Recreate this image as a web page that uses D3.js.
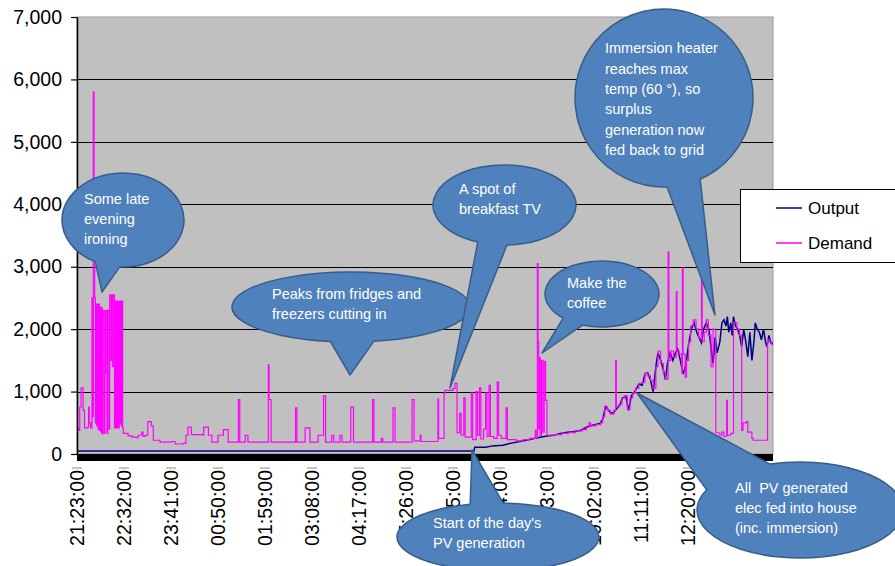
<!DOCTYPE html>
<html><head><meta charset="utf-8">
<script src="https://cdn.jsdelivr.net/npm/d3@7"></script>
<style>
body{margin:0;background:#fff}
svg{display:block}
text{font-family:"Liberation Sans",Arial,sans-serif}
</style>
</head><body>
<svg id="chart" width="895" height="566"></svg>
<script>
// ---------- DATA ----------
const timeLabels = ["21:23:00","22:32:00","23:41:00","00:50:00","01:59:00","03:08:00","04:17:00",
  "05:26:00","06:35:00","07:44:00","08:53:00","10:02:00","11:11:00","12:20:00","13:29:00"];
const labelStepMinutes = 69;          // minutes between category labels
const totalMinutes = 1022;            // minutes covered by the category axis
const yTicks = [0,1000,2000,3000,4000,5000,6000,7000];
const seriesNames = ["Output","Demand"];

// [minutes since 21:23, watts]
const outputSeries = [[0,50],[583,50],[584,110],[600,110],[610,130],[625,140],[636,170],[650,200],[668,240],
  [680,270],[690,290],[700,300],[710,330],[720,350],[730,360],[740,380],[750,440],[760,470],[768,490],[772,560],
  [776,760],[782,680],[787,650],[792,720],[797,780],[801,900],[806,920],[810,700],[814,930],[819,1000],[825,1120],
  [830,1100],[834,1280],[838,1300],[842,1190],[846,1000],[850,1400],[853,1620],[857,1500],[861,1350],[864,1190],
  [867,1450],[871,1620],[875,1500],[878,1600],[882,1680],[886,1500],[890,1280],[894,1420],[898,1750],[902,2000],
  [906,2100],[910,1950],[914,1850],[917,1780],[920,2000],[924,2100],[928,2000],[931,1700],[934,1450],[937,1870],
  [940,1620],[944,1800],[947,2100],[950,2150],[953,2050],[955,2200],[957,1950],[960,2100],[962,1900],[964,2200],
  [967,2050],[970,2000],[973,1900],[976,1720],[979,2000],[982,1800],[985,1560],[988,1950],[991,1500],[994,1800],
  [996,2100],[999,2000],[1002,1950],[1005,1830],[1008,2000],[1011,1800],[1013,1720],[1016,1900],[1019,1780],[1022,1780]];

const demandSeries = [[0,420],[2,390],[3,380],[4,750],[6,1060],[9,700],[11,420],[16,430],[17,750],[18,500],[20,420],
  [22,2500],[23,600],[24,5800],[25,3000],[26,2500],[27,500],[28,2400],[29,450],[30,2400],[31,400],[32,2400],[33,380],
  [34,2350],[35,350],[36,2350],[37,320],[38,2300],[40,330],[41,1300],[42,2300],[44,330],[45,2300],[47,400],
  [48,2550],[50,1500],[51,2550],[52,1400],[53,2550],[55,420],[56,2450],[57,420],[58,2450],[59,420],[60,2450],
  [61,420],[62,2450],[63,500],[64,2450],[65,450],[66,2450],[67,420],[68,330],[75,290],[81,270],[88,260],[90,300],
  [95,350],[97,280],[100,300],[104,520],[109,450],[112,220],[122,190],[139,200],[144,160],[156,170],[160,300],
  [163,430],[168,310],[185,300],[186,430],[193,300],[198,190],[207,300],[215,390],[222,190],[237,870],[239,190],
  [247,300],[251,190],[281,1430],[282,870],[285,190],[321,740],[323,190],[335,420],[342,190],[354,300],[362,930],
  [365,190],[374,300],[377,190],[386,300],[389,190],[402,750],[406,190],[434,870],[436,190],[447,250],[449,190],
  [464,740],[467,190],[492,870],[495,210],[504,300],[505,200],[530,880],[531,250],[539,970],[540,1020],[552,1050],
  [555,1130],[558,340],[562,650],[564,300],[568,900],[570,270],[579,980],[581,230],[586,1000],[588,300],[591,1060],
  [593,240],[597,400],[600,980],[602,280],[605,1100],[607,280],[612,250],[617,1150],[619,300],[623,250],[630,740],
  [632,230],[645,210],[655,230],[665,250],[673,380],[674,260],[676,3050],[677,1800],[678,400],[679,1550],[680,300],
  [682,1500],[684,350],[686,1480],[688,860],[690,300],[700,310],[712,330],[722,350],[728,340],[732,370],[742,390],
  [748,430],[752,500],[754,450],[762,470],[769,500],[772,600],[775,760],[779,700],[783,640],[788,700],[791,1500],
  [792,760],[796,800],[800,900],[804,930],[808,720],[812,900],[816,980],[820,1050],[825,1130],[830,1150],[834,1290],
  [838,1250],[842,1180],[846,1050],[850,1400],[853,1650],[857,1450],[861,1300],[864,1200],[868,3240],[869,1500],
  [872,1650],[876,1550],[880,2600],[881,1650],[884,1600],[888,1300],[889,2980],[890,1600],[893,1230],[895,1500],
  [898,1800],[901,2050],[905,2150],[909,2000],[913,1850],[917,2790],[918,1800],[921,1950],[924,2150],[927,1900],
  [931,1400],[934,2000],[938,340],[944,300],[947,350],[950,280],[954,860],[955,300],[960,330],[964,2100],[969,2000],
  [973,1900],[976,380],[978,500],[983,520],[985,350],[991,250],[993,220],[1014,1830],[1017,1800],[1020,1750],[1022,1750]];

const annotationTexts = [
  ["Some late","evening","ironing"],
  ["Peaks from fridges and","freezers cutting in"],
  ["A spot of","breakfast TV"],
  ["Make the","coffee"],
  ["Immersion heater","reaches max","temp (60 \u00B0), so","surplus","generation now","fed back to grid"],
  ["Start of the day's","PV generation"],
  ["All  PV generated","elec fed into house","(inc. immersion)"]
];

// ---------- LAYOUT ----------
const W = 895, H = 566;
const plot = {left:77, right:773, top:17, bottom:454};
const calloutLayout = [
  {cx:123, cy:220, rx:61, ry:47, tip:[102,292], t1:93, t2:117, tx:84, ty:199, lh:20},
  {cx:351, cy:307, rx:119, ry:35, tip:[350,375], t1:79, t2:100, tx:272, ty:294, lh:19.5},
  {cx:504.5, cy:205, rx:71.5, ry:40, tip:[450,388], t1:88, t2:112, tx:459, ty:189, lh:19.5},
  {cx:602, cy:294, rx:57, ry:33, tip:[542,353], t1:110, t2:133, tx:567, ty:283, lh:20},
  {cx:664, cy:98, rx:89, ry:89, tip:[715,315], t1:66, t2:88, tx:605, ty:48, lh:20.4},
  {cx:498, cy:537, rx:101, ry:34, tip:[472,450], t1:254, t2:273, tx:433, ty:523, lh:20},
  {cx:800, cy:510, rx:103, ry:48, tip:[637,393], t1:205, t2:253, tx:735, ty:488, lh:20}
];
const colors = {output:"#000080", demand:"#FF00FF", plotBg:"#C0C0C0", bubble:"#4F81BD", bubbleStroke:"#385D8A"};

const svg = d3.select("#chart");
svg.append("rect").attr("width",W).attr("height",H).attr("fill","#fff");

const x = d3.scaleLinear().domain([0,totalMinutes]).range([plot.left, plot.right]);
const y = d3.scaleLinear().domain([0,7000]).range([plot.bottom, plot.top]);

// plot area
svg.append("rect").attr("x",plot.left).attr("y",plot.top)
  .attr("width",plot.right-plot.left).attr("height",plot.bottom-plot.top)
  .attr("fill",colors.plotBg).attr("stroke","#9a9a9a").attr("stroke-width",1);

// gridlines
svg.append("g").selectAll("line").data(yTicks.filter(d=>d>0 && d<7000)).join("line")
  .attr("x1",plot.left).attr("x2",plot.right)
  .attr("y1",d=>Math.round(y(d))+0.5).attr("y2",d=>Math.round(y(d))+0.5)
  .attr("stroke","#000").attr("stroke-width",1.2);

// series
const lineOut = d3.line().x(d=>x(d[0])).y(d=>y(d[1]));
const lineDem = d3.line().x(d=>x(d[0])).y(d=>y(d[1])).curve(d3.curveStepAfter);
svg.append("path").datum(outputSeries).attr("d",lineOut)
  .attr("fill","none").attr("stroke",colors.output).attr("stroke-width",1.5);
svg.append("path").datum(demandSeries).attr("d",lineDem)
  .attr("fill","none").attr("stroke",colors.demand).attr("stroke-width",1.2);

// floor band
svg.append("rect").attr("x",plot.left).attr("y",plot.bottom)
  .attr("width",plot.right-plot.left).attr("height",7).attr("fill","#000");

// y axis
const yAxis = svg.append("g").attr("transform",`translate(${plot.left},0)`)
  .call(d3.axisLeft(y).tickValues(yTicks).tickSize(6).tickSizeOuter(0).tickPadding(9).tickFormat(d3.format(",")));
yAxis.select(".domain").attr("stroke","#000").attr("stroke-width",1.5);
yAxis.selectAll(".tick line").attr("stroke","#000").attr("stroke-width",1.2);
yAxis.selectAll("text").attr("font-size","19.5px").attr("fill","#000")
  .attr("font-family",'"Liberation Sans",Arial,sans-serif');

// x axis (category labels)
const labelMinutes = timeLabels.map((d,i)=>i*labelStepMinutes);
const xAxis = svg.append("g").attr("transform","translate(0,470)")
  .call(d3.axisBottom(x).tickValues(labelMinutes).tickSize(0).tickFormat((d,i)=>timeLabels[i]));
xAxis.select(".domain").remove();
xAxis.selectAll("text").attr("x",0).attr("y",0).attr("dy","0.35em")
  .attr("transform","rotate(-90)").attr("text-anchor","end")
  .attr("font-size","19.5px").attr("fill","#000")
  .attr("font-family",'"Liberation Sans",Arial,sans-serif');
svg.append("g").selectAll("rect").data(labelMinutes).join("rect")
  .attr("x",d=>x(d)-5).attr("y",467).attr("width",10).attr("height",2).attr("fill","#c4c4c4");

// legend
const lg = svg.append("g");
lg.append("rect").attr("x",740.5).attr("y",189.5).attr("width",170).attr("height",73)
  .attr("fill","#fff").attr("stroke","#000").attr("stroke-width",1);
const legendColors = [colors.output, colors.demand];
seriesNames.forEach((n,i)=>{
  const ly = 208 + i*35;
  lg.append("line").attr("x1",776).attr("x2",802).attr("y1",ly).attr("y2",ly)
    .attr("stroke",legendColors[i]).attr("stroke-width",1.5);
  lg.append("text").attr("x",808).attr("y",ly).attr("dy","0.36em")
    .attr("font-size","17px").attr("fill","#000").text(n);
});

// callouts
function calloutPath(c){
  const r = Math.PI/180;
  const ax = c.cx + c.rx*Math.cos(c.t1*r), ay = c.cy + c.ry*Math.sin(c.t1*r);
  const bx = c.cx + c.rx*Math.cos(c.t2*r), by = c.cy + c.ry*Math.sin(c.t2*r);
  return `M${bx},${by}A${c.rx},${c.ry} 0 1 1 ${ax},${ay}L${c.tip[0]},${c.tip[1]}Z`;
}
const cg = svg.append("g");
calloutLayout.forEach((c,i)=>{
  cg.append("path").attr("d",calloutPath(c)).attr("fill",colors.bubble)
    .attr("stroke",colors.bubbleStroke).attr("stroke-width",1.5).attr("stroke-linejoin","round");
  const t = cg.append("text").attr("font-size","14.5px").attr("fill","#fff");
  annotationTexts[i].forEach((ln,j)=>{
    t.append("tspan").attr("x",c.tx).attr("y",c.ty + j*c.lh).attr("dy","0.36em")
      .attr("xml:space","preserve").text(ln);
  });
});
</script>
</body></html>
